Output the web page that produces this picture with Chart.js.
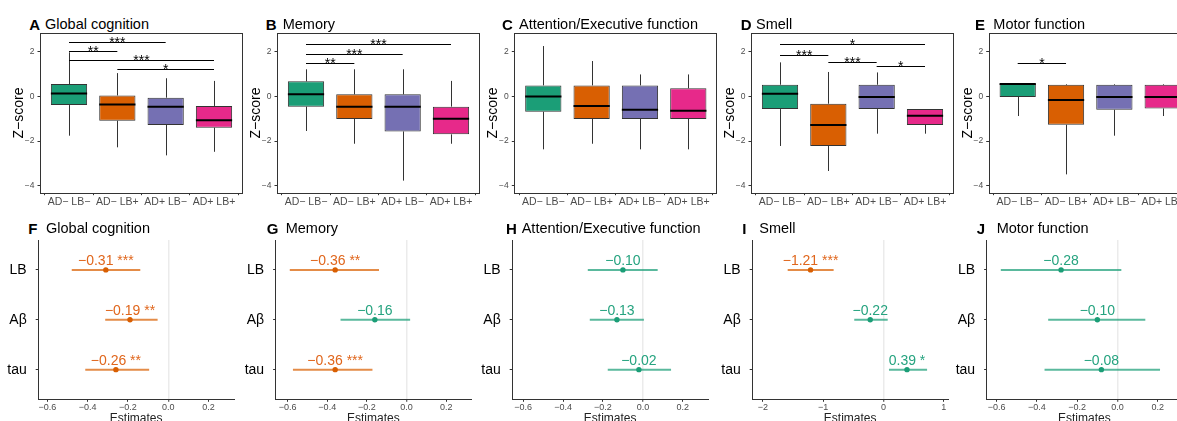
<!DOCTYPE html>
<html><head><meta charset="utf-8">
<script src="https://cdn.jsdelivr.net/npm/chart.js@4.4.0/dist/chart.umd.min.js"></script>
<style>
html,body{margin:0;padding:0;background:#fff;width:1177px;height:421px;overflow:hidden;position:relative;font-family:"Liberation Sans",Arial,sans-serif}
canvas{position:absolute}
.tag{position:absolute;font-weight:bold;font-size:15px;line-height:1;white-space:nowrap;color:#000}
.ttl{position:absolute;font-size:14.5px;line-height:1;white-space:nowrap;color:#000}
</style>
</head><body>
<script>
// ---------- DATA ----------
const groups = ["AD− LB−", "AD− LB+", "AD+ LB−", "AD+ LB+"];
const groupColors = ["#1B9E77", "#D95F02", "#7570B3", "#E7298A"];
const zTicks = [-4, -2, 0, 2];

// A Global cognition
const globalMin = [-1.76, -2.28, -2.64, -2.48];
const globalQ1  = [-0.39, -1.09, -1.28, -1.40];
const globalMed = [0.13, -0.37, -0.46, -1.07];
const globalQ3  = [0.55, 0.04, -0.06, -0.43];
const globalMax = [1.97, 1.04, 0.81, 0.69];
const globalSig = [[0, 2, 2.42, "***"], [0, 1, 2.01, "**"], [0, 3, 1.64, "***"], [1, 3, 1.22, "*"]];
// B Memory
const memoryMin = [-1.55, -2.12, -3.77, -2.12];
const memoryQ1  = [-0.46, -1.01, -1.57, -1.70];
const memoryMed = [0.09, -0.46, -0.46, -1.00];
const memoryQ3  = [0.67, 0.09, 0.09, -0.46];
const memoryMax = [1.21, 1.21, 1.21, 0.69];
const memorySig = [[0, 3, 2.33, "***"], [0, 2, 1.89, "***"], [0, 1, 1.48, "**"]];
// C Attention/Executive function
const attnMin = [-2.37, -2.12, -2.37, -2.37];
const attnQ1  = [-0.69, -1.01, -1.01, -1.01];
const attnMed = [-0.01, -0.43, -0.60, -0.64];
const attnQ3  = [0.49, 0.49, 0.49, 0.36];
const attnMax = [2.25, 1.58, 0.98, 0.98];
const attnSig = [];
// D Smell
const smellMin = [-2.22, -3.34, -1.67, -1.67];
const smellQ1  = [-0.57, -2.22, -0.57, -1.28];
const smellMed = [0.12, -1.28, -0.03, -0.87];
const smellQ3  = [0.52, -0.33, 0.52, -0.57];
const smellMax = [1.52, 1.09, 1.07, -0.57];
const smellSig = [[0, 3, 2.36, "*"], [0, 1, 1.85, "***"], [1, 2, 1.54, "***"], [2, 3, 1.34, "*"]];
// E Motor function
const motorMin = [-0.88, -3.49, -1.76, -0.88];
const motorQ1  = [-0.03, -1.27, -0.60, -0.54];
const motorMed = [0.55, -0.16, -0.03, -0.03];
const motorQ3  = [0.55, 0.52, 0.52, 0.52];
const motorMax = [0.55, 0.55, 0.55, 0.55];
const motorSig = [[0, 1, 1.49, "*"]];

// Forest plots
const predictors = ["LB", "Aβ", "tau"];
const estTicks = [-0.6, -0.4, -0.2, 0, 0.2];
const smellEstTicks = [-2, -1, 0, 1];

const fGlobalEst = [-0.31, -0.19, -0.26];
const fGlobalLo  = [-0.479, -0.313, -0.412];
const fGlobalHi  = [-0.139, -0.053, -0.095];
const fGlobalStars = ["***", "**", "**"];

const fMemoryEst = [-0.36, -0.16, -0.36];
const fMemoryLo  = [-0.589, -0.333, -0.573];
const fMemoryHi  = [-0.139, 0.018, -0.172];
const fMemoryStars = ["**", "", "***"];

const fAttnEst = [-0.10, -0.13, -0.02];
const fAttnLo  = [-0.276, -0.266, -0.176];
const fAttnHi  = [0.074, 0.005, 0.141];
const fAttnStars = ["", "", ""];

const fSmellEst = [-1.21, -0.22, 0.39];
const fSmellLo  = [-1.589, -0.485, 0.091];
const fSmellHi  = [-0.827, 0.07, 0.723];
const fSmellStars = ["***", "", "*"];

const fMotorEst = [-0.28, -0.10, -0.08];
const fMotorLo  = [-0.579, -0.344, -0.362];
const fMotorHi  = [0.019, 0.138, 0.211];
const fMotorStars = ["", "", ""];

// ---------- LAYOUT ----------
Chart.defaults.font.family = '"Liberation Sans", Arial, sans-serif';
const minus = v => (v < 0 ? "−" : "") + Math.abs(v);
const fmtDec = (v, d) => (v < -1e-9 ? "−" : "") + Math.abs(v).toFixed(d);

const boxPanels = [
  {tag: "A", title: "Global cognition", min: globalMin, q1: globalQ1, med: globalMed, q3: globalQ3, max: globalMax, sig: globalSig,
   frame: 40, tagX: 29.3, ttlX: 45},
  {tag: "B", title: "Memory", min: memoryMin, q1: memoryQ1, med: memoryMed, q3: memoryQ3, max: memoryMax, sig: memorySig,
   frame: 277, tagX: 265.7, ttlX: 282.7},
  {tag: "C", title: "Attention/Executive function", min: attnMin, q1: attnQ1, med: attnMed, q3: attnQ3, max: attnMax, sig: attnSig,
   frame: 514.3, tagX: 502, ttlX: 519},
  {tag: "D", title: "Smell", min: smellMin, q1: smellQ1, med: smellMed, q3: smellQ3, max: smellMax, sig: smellSig,
   frame: 751, tagX: 740.7, ttlX: 756},
  {tag: "E", title: "Motor function", min: motorMin, q1: motorQ1, med: motorMed, q3: motorQ3, max: motorMax, sig: motorSig,
   frame: 988.7, tagX: 975, ttlX: 993.3}
];

const forestPanels = [
  {tag: "F", title: "Global cognition", est: fGlobalEst, lo: fGlobalLo, hi: fGlobalHi, stars: fGlobalStars, ticks: estTicks, dec: 1,
   xmin: -0.645, xmax: 0.326, axis: 38.3, tagX: 28.3, ttlX: 46},
  {tag: "G", title: "Memory", est: fMemoryEst, lo: fMemoryLo, hi: fMemoryHi, stars: fMemoryStars, ticks: estTicks, dec: 1,
   xmin: -0.66, xmax: 0.325, axis: 275.7, tagX: 266.7, ttlX: 285.7},
  {tag: "H", title: "Attention/Executive function", est: fAttnEst, lo: fAttnLo, hi: fAttnHi, stars: fAttnStars, ticks: estTicks, dec: 1,
   xmin: -0.654, xmax: 0.326, axis: 512.3, tagX: 506, ttlX: 521.7},
  {tag: "I", title: "Smell", est: fSmellEst, lo: fSmellLo, hi: fSmellHi, stars: fSmellStars, ticks: smellEstTicks, dec: 0,
   xmin: -2.176, xmax: 1.07, axis: 752.3, tagX: 742.3, ttlX: 759.3},
  {tag: "J", title: "Motor function", est: fMotorEst, lo: fMotorLo, hi: fMotorHi, stars: fMotorStars, ticks: estTicks, dec: 1,
   xmin: -0.649, xmax: 0.32, axis: 986.7, tagX: 976.7, ttlX: 996.7}
];

function addText(cls, txt, left, top) {
  const d = document.createElement("div");
  d.className = cls; d.textContent = txt;
  d.style.left = left + "px"; d.style.top = top + "px";
  document.body.appendChild(d);
}
function addCanvas(left, top, w, h) {
  const c = document.createElement("canvas");
  c.width = w; c.height = h;
  c.style.left = left + "px"; c.style.top = top + "px";
  c.style.width = w + "px"; c.style.height = h + "px";
  document.body.appendChild(c);
  return c;
}

function boxPlugin(p) {
  return {
    id: "boxExtras",
    beforeDatasetsDraw(chart) {
      const {ctx} = chart, x = chart.scales.x, y = chart.scales.y;
      ctx.save();
      ctx.strokeStyle = "#333"; ctx.lineWidth = 1;
      p.min.forEach((v, i) => {
        const px = Math.round(x.getPixelForValue(i)) + 0.5;
        ctx.beginPath();
        ctx.moveTo(px, y.getPixelForValue(p.max[i])); ctx.lineTo(px, y.getPixelForValue(p.q3[i]));
        ctx.moveTo(px, y.getPixelForValue(p.q1[i])); ctx.lineTo(px, y.getPixelForValue(v));
        ctx.stroke();
      });
      ctx.restore();
    },
    afterDatasetsDraw(chart) {
      const {ctx} = chart, x = chart.scales.x, y = chart.scales.y;
      const meta = chart.getDatasetMeta(0);
      ctx.save();
      ctx.strokeStyle = "#000"; ctx.lineWidth = 2;
      meta.data.forEach((el, i) => {
        const py = y.getPixelForValue(p.med[i]);
        ctx.beginPath();
        ctx.moveTo(el.x - el.width / 2, py); ctx.lineTo(el.x + el.width / 2, py);
        ctx.stroke();
      });
      ctx.lineWidth = 1; ctx.strokeStyle = "#000"; ctx.fillStyle = "#000";
      ctx.font = '14px "Liberation Sans", Arial, sans-serif';
      ctx.textAlign = "center"; ctx.textBaseline = "alphabetic";
      p.sig.forEach(([a, b, v, lab]) => {
        const py = Math.round(y.getPixelForValue(v)) + 0.5;
        const xa = x.getPixelForValue(a), xb = x.getPixelForValue(b);
        ctx.beginPath(); ctx.moveTo(xa, py); ctx.lineTo(xb, py); ctx.stroke();
        ctx.fillText(lab, (xa + xb) / 2, py + 4.5);
      });
      ctx.restore();
    },
    afterDraw(chart) {
      const {ctx, chartArea: ca} = chart;
      ctx.save();
      ctx.strokeStyle = "#333"; ctx.lineWidth = 1;
      ctx.strokeRect(Math.round(ca.left) + 0.5, Math.round(ca.top) + 0.5,
                     Math.round(ca.right) - Math.round(ca.left) - 1, Math.round(ca.bottom) - Math.round(ca.top));
      ctx.restore();
    }
  };
}

boxPanels.forEach(p => {
  addText("tag", p.tag, p.tagX, 16.6);
  addText("ttl", p.title, p.ttlX, 17);
  const cLeft = Math.floor(p.frame - 40);
  const yW = p.frame - cLeft;
  const W = Math.ceil(yW + 203 + 2), H = 212;
  const cv = addCanvas(cLeft, 0, W, H);
  new Chart(cv, {
    type: "bar",
    data: {datasets: [{
      data: groups.map((g, i) => ({x: i, y: [p.q1[i], p.q3[i]]})),
      backgroundColor: groupColors, borderColor: "#333", borderWidth: 1, borderSkipped: false,
      categoryPercentage: 1, barPercentage: 0.75, grouped: false
    }]},
    options: {
      responsive: false, animation: false, events: [],
      layout: {padding: {top: 33.3, left: 0, right: W - yW - 203, bottom: 0}},
      plugins: {legend: {display: false}, tooltip: {enabled: false}},
      scales: {
        x: {type: "linear", min: -0.6, max: 3.6, offset: false,
            afterFit: s => { s.height = 19.3; },
            afterBuildTicks: s => { s.ticks = groups.map((g, i) => ({value: i})); },
            ticks: {callback: v => groups[v], color: "#4d4d4d", font: {size: 10.5}, padding: 1, maxRotation: 0, autoSkip: false},
            grid: {drawOnChartArea: false, drawTicks: true, tickLength: 2.5, tickColor: "#333", tickWidth: 1},
            border: {display: false}},
        y: {type: "linear", min: -4.31, max: 2.82,
            afterFit: s => { s.width = yW; },
            afterBuildTicks: s => { s.ticks = zTicks.map(v => ({value: v})); },
            ticks: {callback: v => minus(v), color: "#4d4d4d", font: {size: 8.5}, padding: 3},
            grid: {drawOnChartArea: false, tickLength: 2.5, tickColor: "#333", tickWidth: 1},
            border: {display: false},
            title: {display: true, text: "Z−score", color: "#000", font: {size: 14}, padding: {top: yW - 21 - 8.4, bottom: 0}}}
      }
    },
    plugins: [boxPlugin(p)]
  });
});

const ORANGE = "#D95F02", GREEN = "#1B9E77";
const ORANGE_LINE = "rgba(217,95,2,0.72)", GREEN_LINE = "rgba(27,158,119,0.72)";
const ORANGE_TXT = "#E0661C", GREEN_TXT = "#25A37F";

function forestPlugin(p) {
  return {
    id: "forestLabels",
    afterDatasetsDraw(chart) {
      const {ctx} = chart, x = chart.scales.x, y = chart.scales.y;
      ctx.save();
      ctx.font = '14px "Liberation Sans", Arial, sans-serif';
      ctx.textAlign = "center"; ctx.textBaseline = "alphabetic";
      p.est.forEach((v, i) => {
        const sig = p.stars[i] !== "" && v < 0;
        ctx.fillStyle = sig ? ORANGE_TXT : GREEN_TXT;
        const lab = fmtDec(v, 2) + (p.stars[i] ? " " + p.stars[i] : "");
        ctx.fillText(lab, x.getPixelForValue(v), y.getPixelForValue(i) - 5);
      });
      ctx.restore();
    }
  };
}

forestPanels.forEach(p => {
  addText("tag", p.tag, p.tagX, 220.6);
  addText("ttl", p.title, p.ttlX, 221);
  const cLeft = Math.floor(p.axis - 38.3);
  const yW = p.axis - cLeft;
  const W = Math.ceil(yW + 199), H = 220;
  const cv = addCanvas(cLeft, 210, W, H);
  const isSig = i => p.stars[i] !== "" && p.est[i] < 0;
  const lineSets = predictors.map((r, i) => ({
    type: "line", data: [{x: p.lo[i], y: i}, {x: p.hi[i], y: i}],
    borderColor: isSig(i) ? ORANGE_LINE : GREEN_LINE, borderWidth: 2, pointRadius: 0, showLine: true, order: 1
  }));
  new Chart(cv, {
    type: "scatter",
    data: {datasets: [
      ...lineSets,
      {type: "scatter", data: predictors.map((r, i) => ({x: p.est[i], y: i})), order: 0,
       pointRadius: 2.7, pointBorderWidth: 0,
       pointBackgroundColor: predictors.map((r, i) => isSig(i) ? ORANGE : GREEN)}
    ]},
    options: {
      responsive: false, animation: false, events: [],
      layout: {padding: {top: 30, left: 0, right: W - yW - 199, bottom: 0}},
      plugins: {legend: {display: false}, tooltip: {enabled: false}},
      scales: {
        x: {type: "linear", min: p.xmin, max: p.xmax,
            afterFit: s => { s.height = 30.7; },
            afterBuildTicks: s => { s.ticks = p.ticks.map(v => ({value: v})); },
            ticks: {callback: v => fmtDec(v, p.dec), color: "#4d4d4d", font: {size: 9}, padding: 0.5, maxRotation: 0, autoSkip: false},
            grid: {color: c => (c.tick && Math.abs(c.tick.value) < 1e-9) ? "#ebebeb" : "rgba(0,0,0,0)",
                   lineWidth: c => (c.tick && Math.abs(c.tick.value) < 1e-9) ? 1.5 : 1,
                   drawTicks: true, tickLength: 2.5, tickColor: "#333", tickWidth: 1},
            border: {display: true, color: "#333", width: 1},
            title: {display: true, text: "Estimates", color: "#222", font: {size: 12}, padding: {top: 0, bottom: 4.3}}},
        y: {type: "linear", min: -0.6, max: 2.594, reverse: true,
            afterFit: s => { s.width = yW; },
            afterBuildTicks: s => { s.ticks = predictors.map((r, i) => ({value: i})); },
            ticks: {callback: v => predictors[v], color: "#000", font: {size: 14}, padding: 9},
            grid: {drawOnChartArea: false, tickLength: 2.6, tickColor: "#333", tickWidth: 1},
            border: {display: true, color: "#333", width: 1}}
      }
    },
    plugins: [forestPlugin(p)]
  });
});
</script>
</body></html>
